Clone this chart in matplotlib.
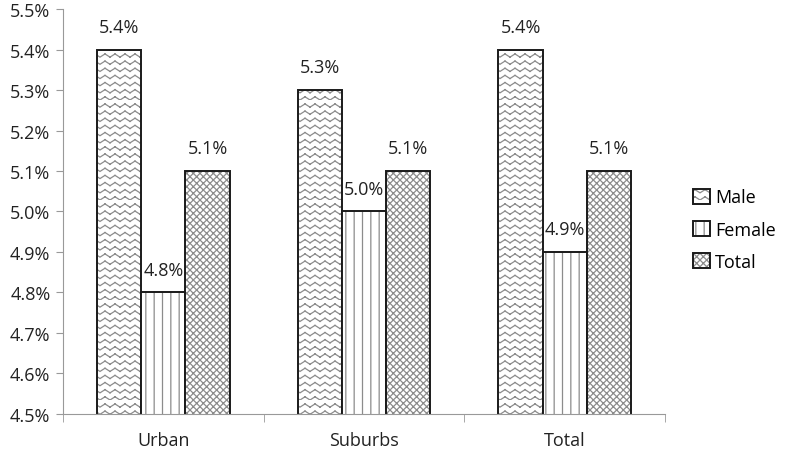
"""
Unemployment-style grouped bar chart: Male / Female / Total by area
"""

import warnings
import numpy as np
import matplotlib
matplotlib.use('Agg')
import matplotlib.pyplot as plt
import matplotlib.hatch as mhatch
from matplotlib.path import Path

# data
categories = ['Urban', 'Suburbs', 'Total']
male = [5.4, 5.3, 5.4]
female = [4.8, 5.0, 4.9]
total = [5.1, 5.1, 5.1]
series_names = ['Male', 'Female', 'Total']
y_ticks = [4.5, 4.6, 4.7, 4.8, 4.9, 5.0, 5.1, 5.2, 5.3, 5.4, 5.5]


class ZigzagHatch(mhatch.HatchPatternBase):
    """Horizontal zigzag lines for the 'z' hatch character (drawn as segments)."""

    def __init__(self, hatch, density):
        self.num_lines = int(hatch.count('z') * density * 1.2)
        self.teeth = 20
        self.num_vertices = self.num_lines * self.teeth * 2

    def set_vertices_and_codes(self, vertices, codes):
        step = 1.0 / self.num_lines
        amp = 0.45 * step
        xs = np.linspace(0, 1, self.teeth + 1)
        k = 0
        for i in range(self.num_lines):
            y0 = i * step
            for j in range(self.teeth):
                ya = y0 + (amp if j % 2 else 0.0)
                yb = y0 + (0.0 if j % 2 else amp)
                vertices[k] = (xs[j], ya)
                vertices[k + 1] = (xs[j + 1], yb)
                codes[k] = Path.MOVETO
                codes[k + 1] = Path.LINETO
                k += 2


mhatch._hatch_types.append(ZigzagHatch)


def main():
    warnings.filterwarnings('ignore')

    plt.rcParams['font.family'] = 'Open Sans'
    plt.rcParams['hatch.linewidth'] = 0.9

    fig = plt.figure(figsize=(7.87, 4.56), dpi=100)
    ax = fig.add_axes([0.080, 0.090, 0.765, 0.888])

    x = np.arange(len(categories))
    width = 0.22
    hatches = ['zz', '||', 'xxxxx']
    values = [male, female, total]
    for i, (name, vals, h) in enumerate(zip(series_names, values, hatches)):
        bars = ax.bar(x + (i - 1) * width, vals, width, bottom=0,
                      color='white', edgecolor='#1a1a1a', linewidth=1.4,
                      hatch=h, label=name)
        for b, v in zip(bars, vals):
            b._hatch_color = (0.55, 0.55, 0.55, 1.0)
            ax.annotate(f'{v:.1f}%', (b.get_x() + b.get_width() / 2, v),
                        xytext=(0, 10), textcoords='offset points',
                        ha='center', va='bottom', fontsize=13,
                        color='#222222')

    ax.set_ylim(4.5, 5.5)
    ax.set_yticks(y_ticks)
    ax.set_yticklabels([f'{t:.1f}%' for t in y_ticks], fontsize=13,
                       color='#222222')
    ax.set_xlim(-0.5, len(categories) - 0.5)
    ax.set_xticks(x)
    ax.set_xticklabels(categories, fontsize=13, color='#222222')
    ax.set_xticks(np.arange(len(categories) + 1) - 0.5, minor=True)
    ax.tick_params(axis='x', which='major', length=0, pad=12)
    ax.tick_params(axis='x', which='minor', length=6, color='#999999')
    ax.tick_params(axis='y', length=5, color='#999999', pad=4)

    for side in ['top', 'right']:
        ax.spines[side].set_visible(False)
    for side in ['left', 'bottom']:
        ax.spines[side].set_color('#999999')

    ax.legend(loc='center left', bbox_to_anchor=(1.02, 0.455), frameon=False,
              fontsize=13, handlelength=0.9, handleheight=0.9,
              handletextpad=0.3, labelspacing=0.8)

    fig.savefig('out.png', dpi=100)


if __name__ == "__main__":
    main()
